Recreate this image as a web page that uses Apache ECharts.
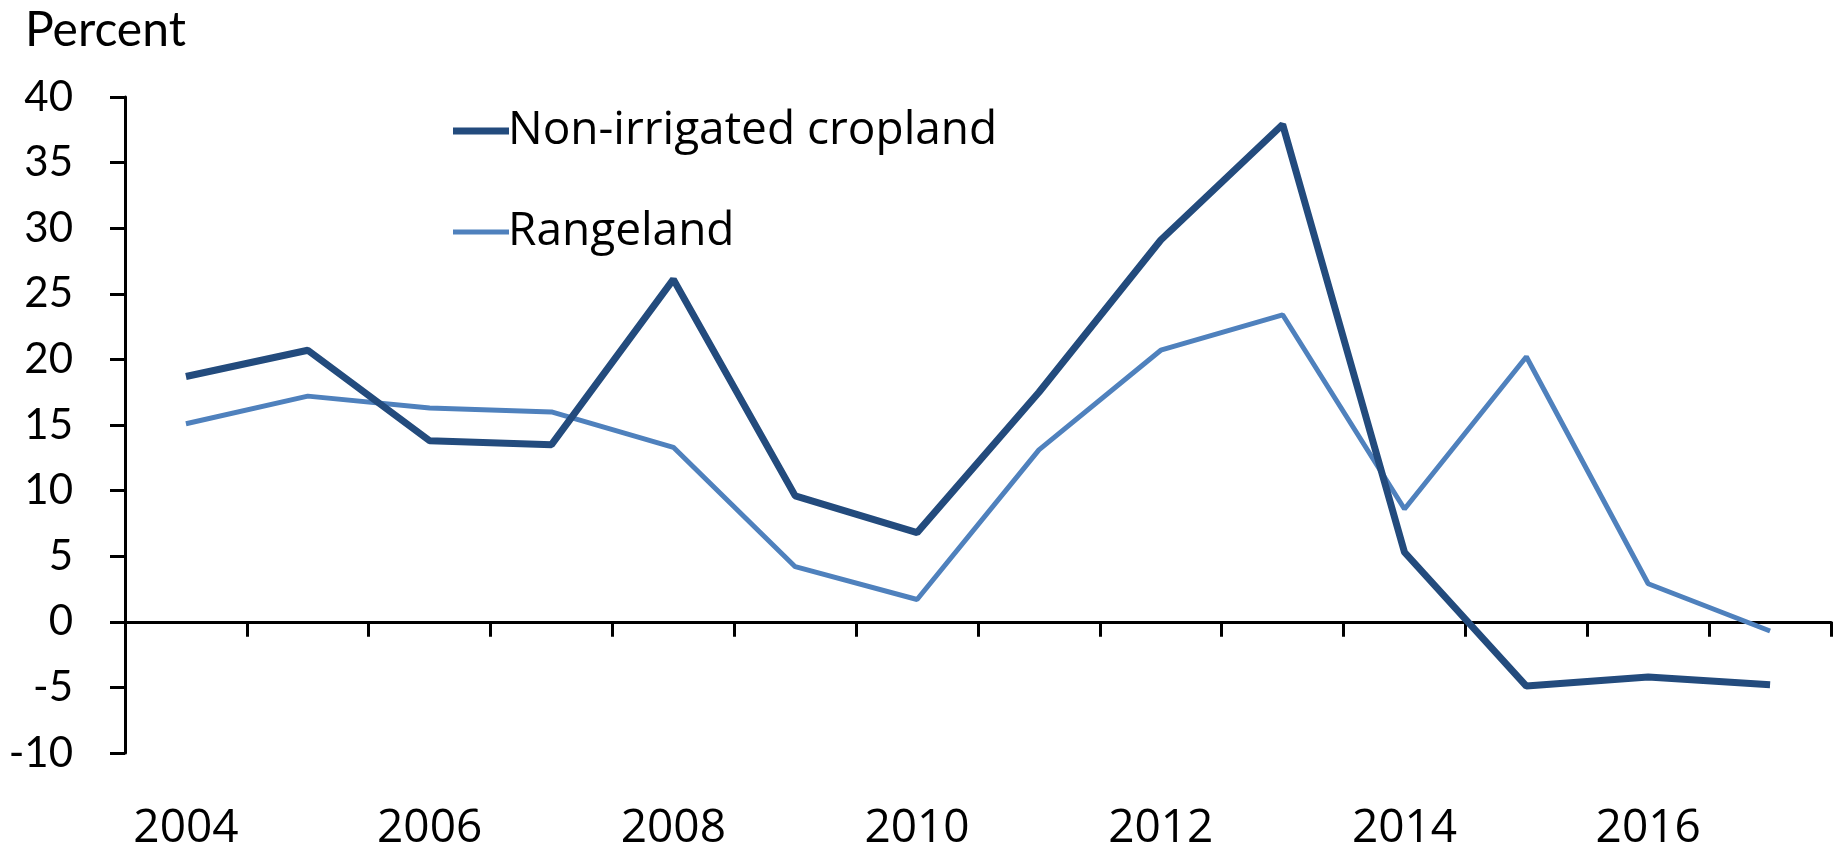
<!DOCTYPE html>
<html>
<head>
<meta charset="utf-8">
<script src="https://cdn.jsdelivr.net/npm/echarts@6/dist/echarts.min.js"></script>
<style>
  html, body { margin: 0; padding: 0; background: #fff; }
  #chart { width: 1847px; height: 844px; }
</style>
</head>
<body>
<div id="chart"></div>
<script>
// years on the x axis
const years = ['2004', '2005', '2006', '2007', '2008', '2009', '2010',
  '2011', '2012', '2013', '2014', '2015', '2016', '2017']
// percent change
const nonIrrigated = [18.7, 20.7, 13.8, 13.5, 26.1, 9.6, 6.8, 17.5, 29.1, 37.9, 5.3, -4.9, -4.2, -4.8]
const rangeland = [15.1, 17.2, 16.3, 16.0, 13.3, 4.2, 1.7, 13.1, 20.7, 23.4, 8.6, 20.2, 2.9, -0.7]
const seriesNames = ['Non-irrigated cropland', 'Rangeland']
const colors = ['#234b7d', '#4f81bd']

const chart = echarts.init(document.getElementById('chart'))

chart.setOption({
  backgroundColor: '#fff',
  animation: false,
  title: {
    text: 'Percent',
    left: 20,
    top: 2,
    textStyle: {
      fontFamily: 'Lato',
      fontWeight: 'normal',
      fontSize: 48,
      color: '#000'
    }
  },
  legend: {
    orient: 'vertical',
    left: 448,
    top: 103,
    itemWidth: 56,
    itemHeight: 14,
    itemGap: 55,
    symbolKeepAspect: true,
    data: [
      { name: seriesNames[0], icon: 'path://M0 0H56V7H0Z' },
      { name: seriesNames[1], icon: 'path://M0 0H56V5H0Z' }
    ],
    textStyle: {
      fontFamily: 'Open Sans',
      fontSize: 46,
      color: '#000',
      padding: [0, 0, 0, -6]
    }
  },
  grid: {
    left: 125,
    right: 16,
    top: 97,
    bottom: 91,
    containLabel: false,
    outerBoundsMode: 'none'
  },
  xAxis: [
    {
      // axis line and ticks sit at zero
      type: 'category',
      boundaryGap: true,
      data: years,
      axisLine: {
        onZero: true,
        lineStyle: { color: '#000', width: 3 }
      },
      axisTick: {
        show: true,
        interval: 0,
        length: 15,
        lineStyle: { color: '#000', width: 3 }
      },
      axisLabel: { show: false },
      splitLine: { show: false }
    },
    {
      // year labels along the bottom
      type: 'category',
      position: 'bottom',
      boundaryGap: true,
      data: years,
      axisLine: { show: false, onZero: false },
      axisTick: { show: false },
      axisLabel: {
        interval: 1,
        margin: 53,
        fontFamily: 'Open Sans',
        fontSize: 46,
        color: '#000'
      },
      splitLine: { show: false }
    }
  ],
  yAxis: {
    type: 'value',
    min: -10,
    max: 40,
    interval: 5,
    axisLine: {
      show: true,
      lineStyle: { color: '#000', width: 3 }
    },
    axisTick: {
      show: true,
      length: 15,
      lineStyle: { color: '#000', width: 3 }
    },
    axisLabel: {
      margin: 52,
      fontFamily: 'Lato',
      fontSize: 42,
      color: '#000'
    },
    splitLine: { show: false }
  },
  series: [
    {
      name: seriesNames[0],
      type: 'line',
      symbol: 'none',
      data: nonIrrigated,
      lineStyle: { color: colors[0], width: 7 },
      itemStyle: { color: colors[0] },
      z: 3
    },
    {
      name: seriesNames[1],
      type: 'line',
      symbol: 'none',
      data: rangeland,
      lineStyle: { color: colors[1], width: 5 },
      itemStyle: { color: colors[1] },
      z: 2
    }
  ]
})
</script>
</body>
</html>
